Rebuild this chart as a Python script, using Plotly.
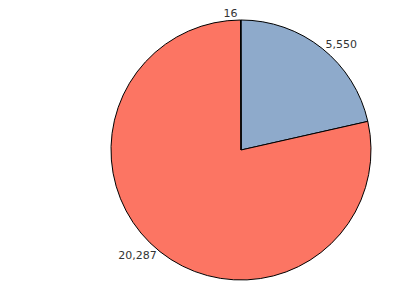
import plotly.graph_objects as go

labels = ["A", "B", "C"]
values = [5550, 20287, 16]
text_labels = ["5,550", "20,287", "16"]
colors = ["#8eaacb", "#fc7563", "#b5cf6b"]

W, H = 408, 292
cx, cy, r = 241, 150, 130

fig = go.Figure(go.Pie(
    labels=labels,
    values=values,
    text=text_labels,
    textinfo="text",
    textposition="outside",
    sort=False,
    direction="clockwise",
    rotation=0,
    marker=dict(colors=colors, line=dict(color="#000000", width=1)),
    textfont=dict(family="DejaVu Sans", size=11, color="#333333"),
    domain=dict(x=[(cx - r) / W, (cx + r) / W], y=[(H - cy - r) / H, (H - cy + r) / H]),
    showlegend=False,
    hoverinfo="skip",
))
fig.update_layout(
    width=W, height=H,
    margin=dict(l=0, r=0, t=0, b=0),
    paper_bgcolor="white",
    plot_bgcolor="white",
)
fig.write_html("out.html")
